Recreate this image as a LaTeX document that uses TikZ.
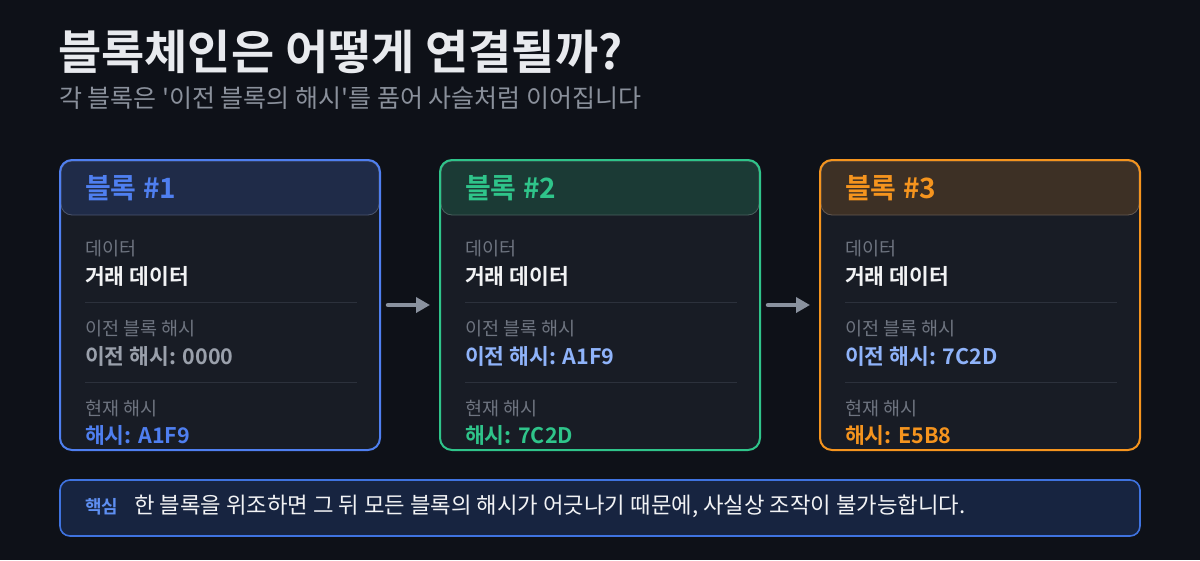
\documentclass[tikz,border=0pt]{standalone}
\usepackage{fontspec}
\setmainfont{Noto Sans CJK KR}[BoldFont={Noto Sans CJK KR Bold},Ligatures=TeXOff]
\usetikzlibrary{arrows.meta}
\definecolor{bg}{HTML}{0E1118}
\definecolor{titlec}{HTML}{E8EAEE}
\definecolor{subc}{HTML}{8A909B}
\definecolor{bodyc}{HTML}{181C25}
\definecolor{labc}{HTML}{6E7480}
\definecolor{valc}{HTML}{F2F3F5}
\definecolor{sepc}{HTML}{2C313C}
\definecolor{grayval}{HTML}{9AA0AB}
\definecolor{prevc}{HTML}{8FB3FA}
\definecolor{bluec}{HTML}{4F7FF0}
\definecolor{blueh}{HTML}{1F2B48}
\definecolor{greenc}{HTML}{2FC48A}
\definecolor{greenh}{HTML}{1B3A35}
\definecolor{orangec}{HTML}{F5941E}
\definecolor{orangeh}{HTML}{3D3025}
\definecolor{arrowc}{HTML}{8A929F}
\definecolor{notefill}{HTML}{172440}
\definecolor{noteborder}{HTML}{3F73E0}
\definecolor{notekey}{HTML}{5E8FF2}
\tikzset{
  blockbox/.style={draw=#1, line width=2pt, rounded corners=12pt, minimum width=320pt, minimum height=290pt, inner sep=0pt},
  lab/.style={anchor=west, inner sep=0pt, text=labc, font=\fontsize{18.5}{18.5}\selectfont},
  val/.style={anchor=west, inner sep=0pt, font=\bfseries\fontsize{21.5}{21.5}\selectfont},
  headtxt/.style={anchor=west, inner sep=0pt, font=\bfseries\fontsize{28}{28}\selectfont},
  sepline/.style={draw=sepc, line width=1pt},
  linkarrow/.style={draw=arrowc, line width=4.5pt, line cap=round, -{Triangle[length=14pt,width=15pt]}}
}
\newcommand{\blockdraw}[7]{%
  \fill[bodyc, rounded corners=12pt] (#2,160) rectangle ++(320,290);
  \filldraw[fill=#4, draw=#4!80!white, line width=0.8pt, rounded corners=11pt] (#2+1,161) rectangle ++(318,54);
  \node[blockbox=#3] (#1) at (#2+160,305) {};
  \node[headtxt, text=#3] (#1h) at (#2+25,188) {블록 \##5};
  \node[lab] (#1l1) at (#2+25,249) {데이터};
  \node[val, text=valc] (#1v1) at (#2+25,276) {거래 데이터};
  \draw[sepline] (#2+25,302) -- (#2+297,302);
  \node[lab] (#1l2) at (#2+25,329) {이전 블록 해시};
  \node[val, text=#7] (#1v2) at (#2+25,356) {#6};
  \draw[sepline] (#2+25,382) -- (#2+297,382);
  \node[lab] (#1l3) at (#2+25,409) {현재 해시};
  \node[val, text=#3] (#1v3) at (#2+25,435) {해시: \curhash};
}
\begin{document}
\begin{tikzpicture}[x=1pt,y=-1pt]
\fill[bg] (0,0) rectangle (1200,560);
\useasboundingbox (0,0) rectangle (1200,560);
\node[anchor=west, inner sep=0pt, text=titlec, font=\bfseries\fontsize{47}{47}\selectfont] (title) at (58,52) {블록체인은 어떻게 연결될까?};
\node[anchor=west, inner sep=0pt, text=subc, font=\fontsize{25}{25}\selectfont] (sub) at (59,98) {각 블록은 '이전 블록의 해시'를 품어 사슬처럼 이어집니다};
\def\curhash{A1F9}
\blockdraw{b1}{60}{bluec}{blueh}{1}{이전 해시: 0000}{grayval}
\def\curhash{7C2D}
\blockdraw{b2}{440}{greenc}{greenh}{2}{이전 해시: A1F9}{prevc}
\def\curhash{E5B8}
\blockdraw{b3}{820}{orangec}{orangeh}{3}{이전 해시: 7C2D}{prevc}
\draw[linkarrow] ([xshift=7pt]b1.east) -- ([xshift=-9pt]b2.west);
\draw[linkarrow] ([xshift=7pt]b2.east) -- ([xshift=-9pt]b3.west);
\node[draw=noteborder, fill=notefill, line width=1.6pt, rounded corners=10pt, minimum width=1080pt, minimum height=56pt, inner sep=0pt] (note) at (600,508) {};
\node[anchor=west, inner sep=0pt, text=notekey, font=\bfseries\fontsize{18}{18}\selectfont] (notek) at (85,507) {핵심};
\node[anchor=west, inner sep=0pt, text=valc, font=\fontsize{22.3}{22.3}\selectfont] (notet) at (134,506) {한 블록을 위조하면 그 뒤 모든 블록의 해시가 어긋나기 때문에, 사실상 조작이 불가능합니다.};
\end{tikzpicture}
\end{document}
